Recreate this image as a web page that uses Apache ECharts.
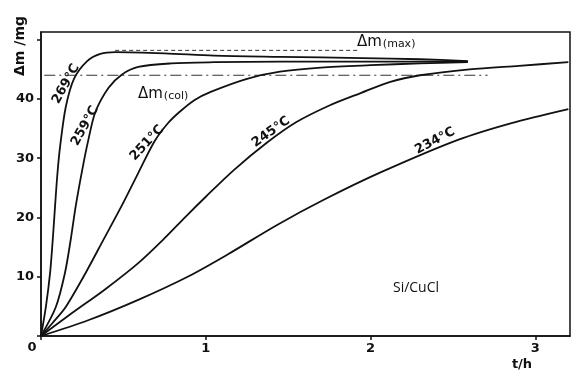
<!DOCTYPE html>
<html>
<head>
<meta charset="utf-8">
<script src="https://cdn.jsdelivr.net/npm/echarts@6/dist/echarts.min.js"></script>
<style>
html,body{margin:0;padding:0;background:#fff;}
#c{width:574px;height:375px;}
</style>
</head>
<body>
<div id="c"></div>
<script>
// ---- data (t in h, Δm in mg) ----
const curve269 = [[0,0],[0.03,5.0],[0.055,10.6],[0.072,16.5],[0.085,21.8],[0.1,27.5],[0.116,32.0],[0.15,38.6],[0.2,43.4],[0.28,46.4],[0.36,47.6],[0.45,47.9],[0.75,47.7],[1.05,47.3],[1.45,47.1],[1.95,46.9],[2.3,46.7],[2.59,46.4]];
const curve259 = [[0,0],[0.09,4.9],[0.145,10.6],[0.18,16.2],[0.21,21.8],[0.25,28.0],[0.285,32.8],[0.33,37.8],[0.41,41.9],[0.49,44.1],[0.59,45.4],[0.79,46.0],[1.05,46.2],[1.45,46.3],[1.95,46.3],[2.3,46.3],[2.59,46.3]];
const curve251 = [[0,0],[0.07,2.2],[0.15,4.9],[0.27,10.6],[0.38,16.3],[0.49,22.0],[0.59,27.5],[0.69,32.9],[0.77,35.9],[0.84,37.8],[0.93,39.8],[1.03,41.2],[1.25,43.4],[1.45,44.6],[1.7,45.3],[2.0,45.7],[2.3,46.0],[2.59,46.2]];
const curve245 = [[0,0],[0.18,3.7],[0.39,7.9],[0.59,12.3],[0.75,16.5],[0.88,20.2],[1.0,23.5],[1.17,28.0],[1.37,32.6],[1.55,36.1],[1.75,38.9],[1.94,41.0],[2.12,42.9],[2.3,44.0],[2.6,45.0],[2.9,45.6],[3.2,46.2]];
const curve234 = [[0,0],[0.29,2.7],[0.59,6.1],[0.89,10.0],[1.135,13.8],[1.43,18.7],[1.71,22.9],[2.06,27.6],[2.53,33.1],[2.85,35.9],[3.2,38.3]];
const dmCol = [[0.02,44.0],[2.71,44.0]];
const dmMax = [[0.45,48.2],[1.93,48.2]];
const xTicks = [1,2,3];
const yTicks = [10,20,30,40];

const chart = echarts.init(document.getElementById('c'), null, {renderer:'canvas'});
const black = '#111';
const curveStyle = {color: black, width: 1.8};
function curve(name, data){
  return {type:'line', name, data, smooth:0.3, symbol:'none', lineStyle:curveStyle, z:3};
}
const F = '"DejaVu Sans", sans-serif';
chart.setOption({
  animation:false,
  backgroundColor:'#fff',
  grid:{left:41, right:4, top:32, bottom:39, show:true, borderColor:black, borderWidth:1.5, backgroundColor:'transparent'},
  xAxis:{type:'value', min:0, max:3.21, interval:1,
    axisLine:{lineStyle:{color:black, width:1.5}},
    axisTick:{show:true, length:4, lineStyle:{color:black, width:1.5}},
    axisLabel:{color:black, fontFamily:F, fontWeight:'bold', fontSize:13, margin:6, showMaxLabel:false,
      formatter:v => xTicks.includes(v) ? String(v) : ''},
    splitLine:{show:false}},
  yAxis:{type:'value', min:0, max:51.3, interval:10,
    axisLine:{show:true, lineStyle:{color:black, width:1.5}},
    axisTick:{show:true, length:4, lineStyle:{color:black, width:1.5}},
    axisLabel:{color:black, fontFamily:F, fontWeight:'bold', fontSize:13, margin:7, showMaxLabel:false,
      formatter:v => yTicks.includes(v) ? String(v) : ''},
    splitLine:{show:false}},
  series:[
    curve('269°C', curve269),
    curve('259°C', curve259),
    curve('251°C', curve251),
    curve('245°C', curve245),
    curve('234°C', curve234),
    {type:'line', name:'Δm(col)', data:dmCol, symbol:'none', lineStyle:{color:'#333', width:1, type:[11,4,2,4]}, z:2},
    {type:'line', name:'Δm(max)', data:dmMax, symbol:'none', lineStyle:{color:'#333', width:1, type:[4,3]}, z:2}
  ],
  graphic:[
    {type:'text', x:32, y:348, style:{text:'0', font:'bold 13px '+F, fill:black, align:'center', verticalAlign:'middle'}},
    {type:'text', x:522, y:365, style:{text:'t/h', font:'bold 13px '+F, fill:black, align:'center', verticalAlign:'middle'}},
    {type:'text', x:20, y:46, rotation:Math.PI/2, style:{text:'Δm /mg', font:'bold 14px '+F, fill:black, align:'center', verticalAlign:'middle'}},
    {type:'text', x:416, y:288, style:{text:'Si/CuCl', font:'14px "Open Sans", sans-serif', fill:black, align:'center', verticalAlign:'middle'}},
    {type:'text', x:66, y:84, rotation:61*Math.PI/180, style:{text:'269°C', font:'bold 13px '+F, fill:black, align:'center', verticalAlign:'middle'}},
    {type:'text', x:85, y:126, rotation:61*Math.PI/180, style:{text:'259°C', font:'bold 13px '+F, fill:black, align:'center', verticalAlign:'middle'}},
    {type:'text', x:147, y:143, rotation:47*Math.PI/180, style:{text:'251°C', font:'bold 13px '+F, fill:black, align:'center', verticalAlign:'middle'}},
    {type:'text', x:271, y:132, rotation:35*Math.PI/180, style:{text:'245°C', font:'bold 13px '+F, fill:black, align:'center', verticalAlign:'middle'}},
    {type:'text', x:435, y:141, rotation:28*Math.PI/180, style:{text:'234°C', font:'bold 13px '+F, fill:black, align:'center', verticalAlign:'middle'}},
    {type:'text', x:138, y:94, style:{text:'{a|Δm}{b|(col)}', fill:black, verticalAlign:'middle',
      rich:{a:{font:'15px '+F, fill:black}, b:{font:'11px '+F, fill:black, verticalAlign:'bottom', padding:[3,0,0,1]}}}},
    {type:'text', x:357, y:42, style:{text:'{a|Δm}{b|(max)}', fill:black, verticalAlign:'middle',
      rich:{a:{font:'15px '+F, fill:black}, b:{font:'11px '+F, fill:black, verticalAlign:'bottom', padding:[3,0,0,1]}}}}
  ]
});
</script>
</body>
</html>
